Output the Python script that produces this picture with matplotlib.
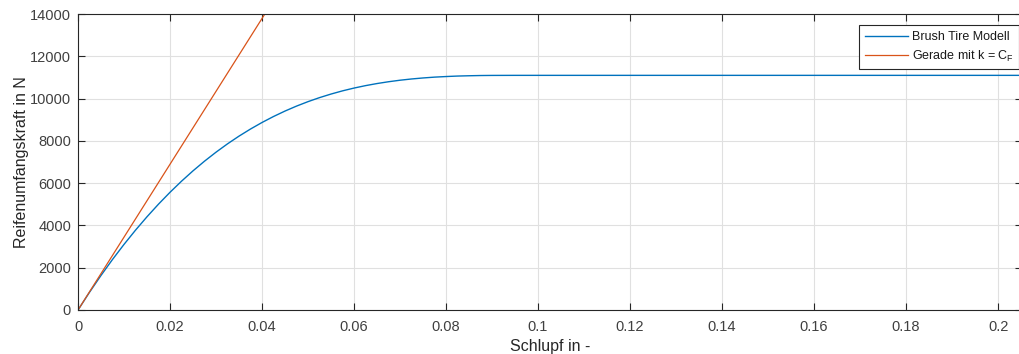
import matplotlib
matplotlib.use('Agg')
import numpy as np
import matplotlib.pyplot as plt

# slip values and brush tire force (N)
slip = [0, 0.0025, 0.005, 0.0075, 0.01, 0.0125, 0.015, 0.0175, 0.02, 0.0225,
        0.025, 0.0275, 0.03, 0.0325, 0.035, 0.0375, 0.04, 0.0425, 0.045, 0.0475,
        0.05, 0.0525, 0.055, 0.0575, 0.06, 0.0625, 0.065, 0.0675, 0.07, 0.0725,
        0.075, 0.0775, 0.08, 0.0825, 0.085, 0.0875, 0.09, 0.095, 0.0965, 0.205]
force = [0, 840, 1637, 2392, 3105, 3778, 4412, 5009, 5569, 6094,
         6584, 7041, 7466, 7861, 8226, 8562, 8871, 9154, 9412, 9646,
         9857, 10047, 10216, 10367, 10499, 10614, 10713, 10798, 10870, 10929,
         10977, 11016, 11044, 11067, 11081, 11092, 11097, 11100, 11100, 11100]

# straight line with slope C_F
slip_line = [0, 0.0406]
force_line = [0, 14000]

labels = ['Brush Tire Modell', 'Gerade mit k = C$_F$']

plt.rcParams['font.family'] = ['Liberation Sans', 'DejaVu Sans']
plt.rcParams['mathtext.fontset'] = 'custom'
plt.rcParams['mathtext.rm'] = 'Liberation Sans'
plt.rcParams['mathtext.it'] = 'Liberation Sans'

txt = (0.25, 0.25, 0.25)

fig = plt.figure(figsize=(10.2, 3.54), dpi=100)
ax = fig.add_axes([0.0765, 0.1243, 0.925, 0.836])

ax.plot(slip, force, color=(0, 0.447, 0.741), lw=1.0, label=labels[0])
ax.plot(slip_line, force_line, color=(0.85, 0.325, 0.098), lw=0.9, label=labels[1])

ax.set_xlim(0, 0.2051)
ax.set_ylim(0, 14000)
ax.set_xticks(np.arange(0, 0.201, 0.02))
ax.set_xticklabels(['0', '0.02', '0.04', '0.06', '0.08', '0.1', '0.12',
                    '0.14', '0.16', '0.18', '0.2'])
ax.set_yticks(np.arange(0, 14001, 2000))

ax.grid(True, color=(0.88, 0.88, 0.88), lw=0.8)
ax.set_axisbelow(True)
ax.tick_params(direction='in', length=5, width=0.8, color=(0.15, 0.15, 0.15),
               labelcolor=txt, labelsize=10.5, top=True, right=True)
ax.tick_params(axis='x', pad=7)
ax.tick_params(axis='y', pad=5)
for sp in ax.spines.values():
    sp.set_color((0.15, 0.15, 0.15))
    sp.set_linewidth(0.8)

ax.set_xlabel('Schlupf in -', fontsize=11.5, color=(0.15, 0.15, 0.15), labelpad=4)
ax.set_ylabel('Reifenumfangskraft in N', fontsize=11.5, color=(0.15, 0.15, 0.15), labelpad=1)

leg = ax.legend(loc='upper right', bbox_to_anchor=(0.9975, 0.962), fontsize=9,
                fancybox=False, framealpha=1, edgecolor=(0.15, 0.15, 0.15),
                handlelength=3.5, borderpad=0.45, labelspacing=0.45, handletextpad=0.25,
                borderaxespad=0)
leg.get_frame().set_linewidth(0.8)
for t in leg.get_texts():
    t.set_color((0.1, 0.1, 0.1))

plt.savefig('out.png', dpi=100)
